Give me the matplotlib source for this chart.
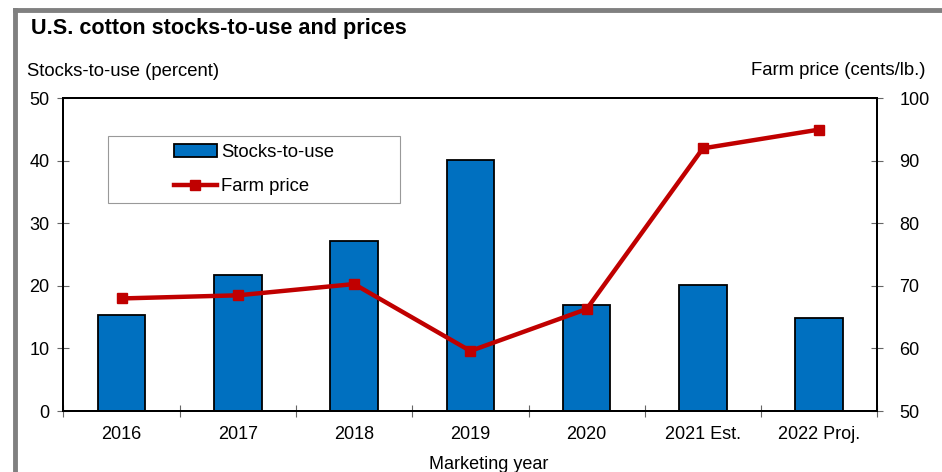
import matplotlib
matplotlib.use("Agg")
import matplotlib.pyplot as plt
from matplotlib.lines import Line2D
from matplotlib.patches import Rectangle, Patch
import numpy as np

plt.rcParams['font.family'] = ['Liberation Sans', 'DejaVu Sans']

years = ["2016", "2017", "2018", "2019", "2020", "2021 Est.", "2022 Proj."]
stocks_to_use = [15.3, 21.7, 27.2, 40.1, 16.9, 20.1, 14.9]  # percent
farm_price = [68.0, 68.5, 70.3, 59.6, 66.3, 92.0, 95.0]  # cents/lb.

bar_color = "#0070C0"
line_color = "#C00000"
tick_gray = "#666666"

fig = plt.figure(figsize=(9.42, 4.72), dpi=100)
ax = fig.add_axes([0.0674, 0.1292, 0.8639, 0.6625])
ax2 = ax.twinx()

x = np.arange(len(years))
ax.bar(x, stocks_to_use, width=0.41, color=bar_color, edgecolor="black",
       linewidth=1.3, zorder=2)
ax2.plot(x, farm_price, color=line_color, linewidth=3.2, marker="s",
         markersize=7.5, zorder=3)

ax.set_xlim(-0.5, len(years) - 0.5)
ax.set_ylim(0, 50)
ax2.set_ylim(50, 100)
ax.set_yticks(range(0, 51, 10))
ax2.set_yticks(range(50, 101, 10))

# category labels on the major ticks, tick marks between categories
ax.set_xticks(x)
ax.set_xticklabels(years, fontsize=13)
ax.set_xticks(np.arange(-0.5, len(years), 1.0), minor=True)
ax.tick_params(axis="x", which="major", length=0, pad=11)
ax.tick_params(axis="x", which="minor", direction="inout", length=9,
               color=tick_gray, width=0.8)
ax.tick_params(axis="y", direction="inout", length=8, color=tick_gray,
               width=0.8, labelsize=13, pad=6)
ax2.tick_params(axis="y", direction="inout", length=8, color=tick_gray,
                width=0.8, labelsize=13, pad=12)

for a in (ax, ax2):
    for s in a.spines.values():
        s.set_linewidth(1.4)
        s.set_color("black")

ax.set_xlabel("Marketing year", fontsize=13, labelpad=9)
ax.xaxis.label.set_x(0.523)

fig.text(0.033, 0.940, "U.S. cotton stocks-to-use and prices", fontsize=15.6,
         fontweight="bold", va="center", ha="left")
fig.text(0.029, 0.848, "Stocks-to-use (percent)", fontsize=13.3,
         va="center", ha="left")
fig.text(0.982, 0.851, "Farm price (cents/lb.)", fontsize=13.3,
         va="center", ha="right")

# legend inside a fixed light-gray box
box = Rectangle((0.0547, 0.665), 0.359, 0.214, transform=ax.transAxes,
                facecolor="white", edgecolor="#999999", linewidth=0.8,
                zorder=4)
ax2.add_patch(box)
handles = [Patch(facecolor=bar_color, edgecolor="black", linewidth=1.3),
           Line2D([], [], color=line_color, linewidth=3.2, marker="s",
                  markersize=7.5)]
leg = ax2.legend(handles, ["Stocks-to-use", "Farm price"], loc="center",
                 bbox_to_anchor=(0.0547 + 0.359 / 2, 0.665 + 0.214 / 2),
                 frameon=False, fontsize=13.3, handlelength=2.3,
                 handleheight=0.7, handletextpad=0.25, labelspacing=0.95)
leg.set_zorder(5)

# gray frame along the top and left edges
fig.add_artist(Line2D([0.0159, 1.0], [0.978, 0.978], color="#808080",
                      linewidth=3.5, transform=fig.transFigure))
fig.add_artist(Line2D([0.0159, 0.0159], [0.0, 0.978], color="#808080",
                      linewidth=3.5, transform=fig.transFigure))

fig.savefig("out.png", dpi=100)
